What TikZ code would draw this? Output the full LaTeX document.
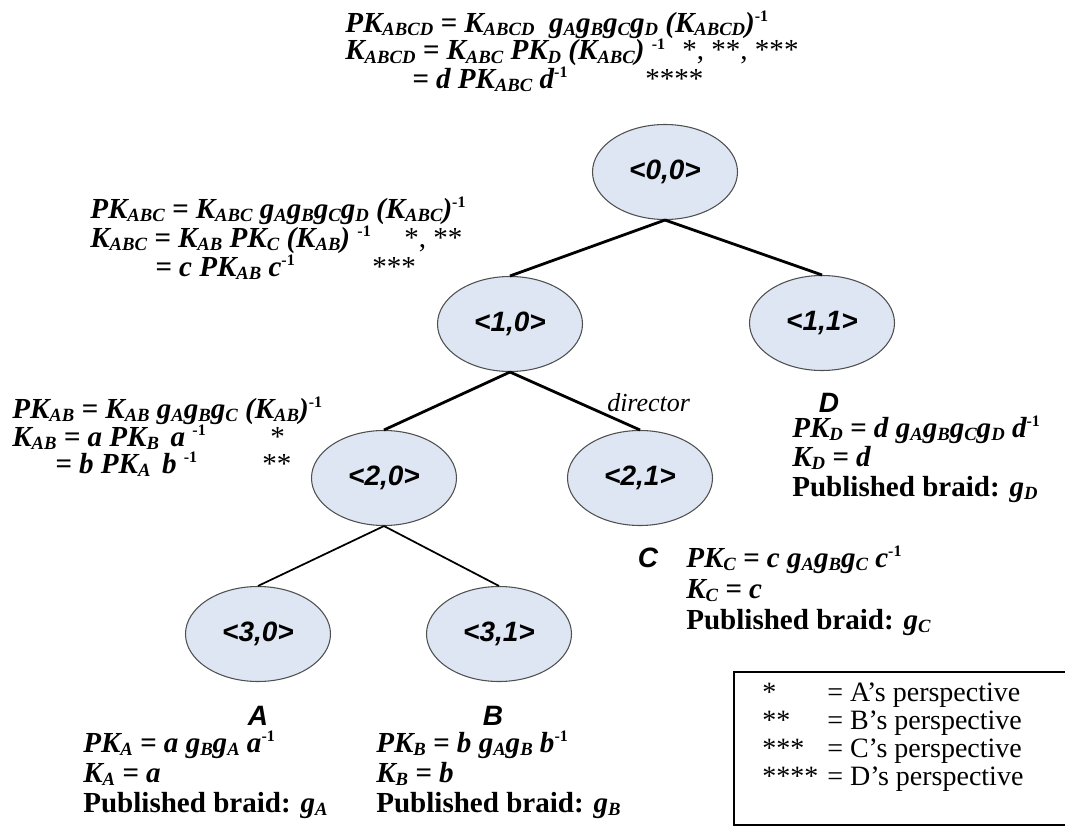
\documentclass[tikz,border=0pt]{standalone}
\usepackage{fontspec}
\setmainfont{Liberation Serif}
\newfontfamily\arialf{Liberation Sans}
\usetikzlibrary{shapes.geometric}

% subscripts and superscripts for the key formulas
\newcommand\lo[1]{\raisebox{-2.6pt}{\fontsize{14}{14}\selectfont #1}}
\newcommand\hi[1]{\raisebox{8.2pt}{\fontsize{12}{12}\selectfont\upshape #1}}
\newcommand\pub{{\upshape Published braid:} }

\definecolor{nodefill}{RGB}{221,230,242}
\definecolor{nodeline}{RGB}{80,80,80}

\tikzset{
  x=0.75pt, y=-0.75pt,
  tnode/.style={ellipse, draw=nodeline, line width=0.8pt, fill=nodefill,
    minimum width=108.75pt, minimum height=71.25pt, inner sep=0pt,
    font=\arialf\bfseries\itshape\fontsize{21}{21}\selectfont},
  eq/.style={anchor=base west, inner sep=0pt,
    font=\fontsize{21.8}{21.8}\selectfont\bfseries\itshape},
  stars/.style={anchor=base west, inner sep=0pt,
    font=\fontsize{21.8}{21.8}\selectfont},
  party/.style={anchor=base, inner sep=0pt,
    font=\arialf\bfseries\itshape\fontsize{21}{21}\selectfont},
  legend/.style={anchor=base west, inner sep=0pt,
    font=\fontsize{21}{21}\selectfont},
  upper/.style={line width=2.1pt},
  lower/.style={line width=1.3pt},
}

\begin{document}
\begin{tikzpicture}
\useasboundingbox (0,0) rectangle (1065,835);

% key tree
\node[tnode] (n00) at (665,172) {<0,0>};
\node[tnode] (n10) at (510,324) {<1,0>};
\node[tnode] (n11) at (822,323) {<1,1>};
\node[tnode] (n20) at (384,478) {<2,0>};
\node[tnode] (n21) at (640,478) {<2,1>};
\node[tnode] (n30) at (258,634) {<3,0>};
\node[tnode] (n31) at (499,634) {<3,1>};

\draw[upper] (n00.south) -- (n10.north);
\draw[upper] (n00.south) -- (n11.north);
\draw[upper] (n10.south) -- (n20.north);
\draw[upper] (n10.south) -- (n21.north);
\draw[lower] (n20.south) -- (n30.north);
\draw[lower] (n20.south) -- (n31.north);

\node[anchor=base west, inner sep=0pt, font=\fontsize{19.5}{19.5}\selectfont\itshape]
  (dir) at (607,411) {director};

% root key
\node[eq] (r1) at (345,32) {PK\lo{ABCD} = K\lo{ABCD}~ g\lo{A}g\lo{B}g\lo{C}g\lo{D} (K\lo{ABCD})\hi{-1}};
\node[eq] (r2) at (345,60) {K\lo{ABCD} = K\lo{ABC} PK\lo{D} (K\lo{ABC}) \hi{-1}};
\node[stars] (r2s) at (682,60) {*, **, ***};
\node[eq] (r3) at (412,88) {= d PK\lo{ABC} d\hi{-1}};
\node[stars] (r3s) at (645,88) {****};

% key of <1,0>
\node[eq] (k1) at (90,218) {PK\lo{ABC} = K\lo{ABC} g\lo{A}g\lo{B}g\lo{C}g\lo{D} (K\lo{ABC})\hi{-1}};
\node[eq] (k2) at (90,247) {K\lo{ABC} = K\lo{AB} PK\lo{C} (K\lo{AB}) \hi{-1}};
\node[stars] (k2s) at (404,247) {*, **};
\node[eq] (k3) at (155,276) {= c PK\lo{AB} c\hi{-1}};
\node[stars] (k3s) at (372,276) {***};

% key of <2,0>
\node[eq] (m1) at (12,418) {PK\lo{AB} = K\lo{AB} g\lo{A}g\lo{B}g\lo{C} (K\lo{AB})\hi{-1}};
\node[eq] (m2) at (12,446) {K\lo{AB} = a PK\lo{B}\hspace{0.15em} a \hi{-1}};
\node[stars] (m2s) at (270,446) {*};
\node[eq] (m3) at (55,473) {= b PK\lo{A}\hspace{0.15em} b \hi{-1}};
\node[stars] (m3s) at (262,473) {**};

% member D
\node[party] (pD) at (829,412) {D};
\node[eq] (d1) at (792,437) {PK\lo{D} = d g\lo{A}g\lo{B}g\lo{C}g\lo{D} d\hi{-1}};
\node[eq] (d2) at (792,466) {K\lo{D} = d};
\node[eq] (d3) at (792,496) {\pub g\lo{D}};

% member C
\node[party] (pC) at (648,567) {C};
\node[eq] (c1) at (686,567) {PK\lo{C} = c g\lo{A}g\lo{B}g\lo{C} c\hi{-1}};
\node[eq] (c2) at (686,598) {K\lo{C} = c};
\node[eq] (c3) at (686,629) {\pub g\lo{C}};

% member A
\node[party] (pA) at (258,725) {A};
\node[eq] (a1) at (83,752) {PK\lo{A} = a g\lo{B}g\lo{A} a\hi{-1}};
\node[eq] (a2) at (83,782) {K\lo{A} = a};
\node[eq] (a3) at (83,812) {\pub g\lo{A}};

% member B
\node[party] (pB) at (493,725) {B};
\node[eq] (b1) at (376,752) {PK\lo{B} = b g\lo{A}g\lo{B} b\hi{-1}};
\node[eq] (b2) at (376,782) {K\lo{B} = b};
\node[eq] (b3) at (376,812) {\pub g\lo{B}};

% legend
\draw[line width=0.9pt] (734,672) rectangle (1070,825);
\node[legend] (l1s) at (762,701) {*};
\node[legend] (l1) at (827,701) {= A’s perspective};
\node[legend] (l2s) at (762,729) {**};
\node[legend] (l2) at (827,729) {= B’s perspective};
\node[legend] (l3s) at (762,757) {***};
\node[legend] (l3) at (827,757) {= C’s perspective};
\node[legend] (l4s) at (762,785) {****};
\node[legend] (l4) at (827,785) {= D’s perspective};
\end{tikzpicture}
\end{document}
